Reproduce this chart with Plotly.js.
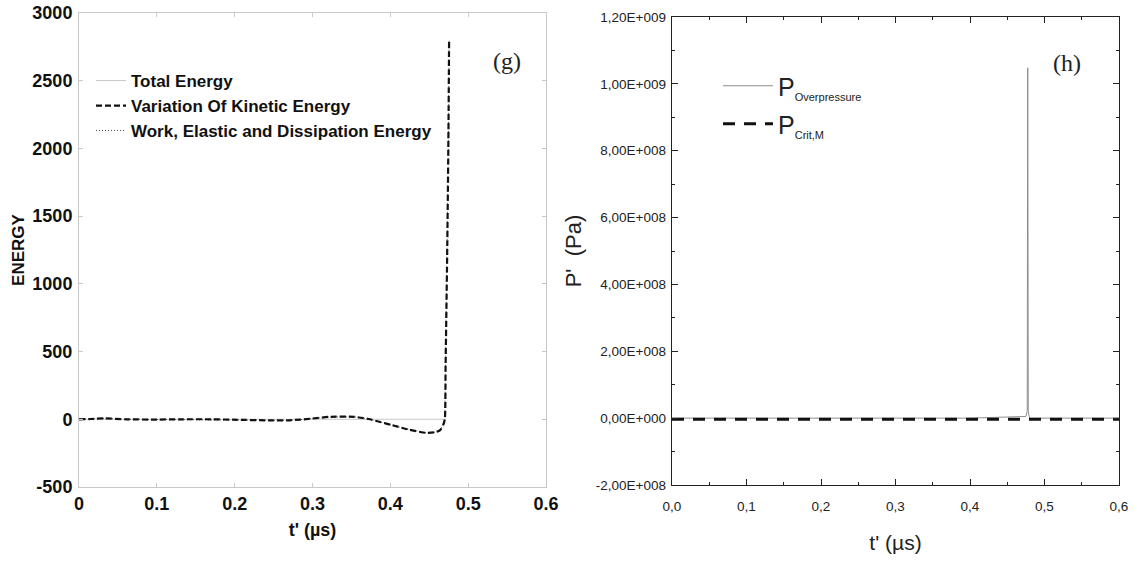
<!DOCTYPE html>
<html><head><meta charset="utf-8">
<script src="https://cdn.plot.ly/plotly-3.0.1.min.js"></script>
<style>html,body{margin:0;padding:0;background:#fff;} #chart{width:1141px;height:563px;}</style>
</head><body><div id="chart"></div>
<script>
// ---- Panel (g): energy ----
const tKinetic = [0, 0.015, 0.033, 0.06, 0.1, 0.129, 0.17, 0.198, 0.244, 0.267, 0.285, 0.299, 0.322, 0.354, 0.372, 0.387, 0.400, 0.423, 0.446, 0.458, 0.464, 0.468, 0.470, 0.471, 0.473, 0.4745, 0.4755];
const eKinetic = [0, 2, 7, 0, -2, 0, 0, -3, -8, -8, -2, 5, 18, 18, 2, -20, -40, -75, -100, -95, -80, -40, 0, 400, 1200, 2000, 2800];
const tTotal = [0, 0.1, 0.2, 0.3, 0.4, 0.47];
const eTotal = [0, 0, 0, 0, 0, 0];
const tWork = tKinetic;
const eWork = eKinetic;
const xTicksG = [0, 0.1, 0.2, 0.3, 0.4, 0.5, 0.6];
const yTicksG = [-500, 0, 500, 1000, 1500, 2000, 2500, 3000];
const yLabelsG = ['-500', '0', '500', '1000', '1500', '2000', '2500', '3000'];

// ---- Panel (h): pressure ----
const tOver = [0, 0.1, 0.2, 0.3, 0.4, 0.475, 0.4768, 0.4775, 0.4782, 0.480, 0.5, 0.6];
const pOver = [0, 0, 0, 0, 0, 5e6, 2e7, 1.048e9, 2e7, 0, 0, 0];
const tCrit = [0, 0.6];
const pCrit = [-3e6, -3e6];
const xTicksH = [0, 0.1, 0.2, 0.3, 0.4, 0.5, 0.6];
const xLabelsH = ['0,0', '0,1', '0,2', '0,3', '0,4', '0,5', '0,6'];
const yTicksH = [-2e8, 0, 2e8, 4e8, 6e8, 8e8, 1e9, 1.2e9];
const yLabelsH = ['-2,00E+008', '0,00E+000', '2,00E+008', '4,00E+008', '6,00E+008', '8,00E+008', '1,00E+009', '1,20E+009'];

const W = 1141, H = 563;
const px = v => v / W;
const py = v => 1 - v / H;
const F = 'Liberation Sans, Arial, sans-serif';

const traces = [
  {x: tTotal, y: eTotal, type: 'scatter', mode: 'lines', name: 'Total Energy',
   line: {color: '#c8c8c8', width: 1}, xaxis: 'x', yaxis: 'y', legend: 'legend'},
  {x: tWork, y: eWork, type: 'scatter', mode: 'lines', name: 'Work, Elastic and Dissipation Energy',
   line: {color: '#444', width: 1, dash: '1px,2px'}, xaxis: 'x', yaxis: 'y', legend: 'legend4'},
  {x: tKinetic, y: eKinetic, type: 'scatter', mode: 'lines', name: 'Variation Of Kinetic Energy',
   line: {color: '#111', width: 2.2, dash: '6px,3px', shape: 'spline', smoothing: 0.6}, xaxis: 'x', yaxis: 'y', legend: 'legend3'},
  {x: tOver, y: pOver, type: 'scatter', mode: 'lines', name: 'P<sub><span style="font-size:11px">Overpressure</span></sub>',
   line: {color: '#8c8c8c', width: 1}, xaxis: 'x2', yaxis: 'y2', legend: 'legend2'},
  {x: tCrit, y: pCrit, type: 'scatter', mode: 'lines', name: 'P<sub><span style="font-size:11px">Crit,M</span></sub>',
   line: {color: '#111', width: 3, dash: '12px,9px'}, xaxis: 'x2', yaxis: 'y2', legend: 'legend5'}
];

const axG = {showgrid: false, zeroline: false, showline: true, linecolor: '#c8c8c8', linewidth: 1,
  mirror: 'ticks', ticks: 'inside', ticklen: 4, tickcolor: '#c8c8c8', tickmode: 'array',
  tickfont: {family: F, size: 18, color: '#111', weight: 'bold'}};
const axH = {showgrid: false, zeroline: false, showline: true, linecolor: '#222', linewidth: 1.3,
  mirror: 'ticks', ticks: 'inside', ticklen: 6, tickcolor: '#222', tickmode: 'array',
  tickfont: {family: F, size: 13.5, color: '#222'}};

const legG = (yc) => ({x: px(91), y: py(yc), xanchor: 'left', yanchor: 'middle', bgcolor: 'rgba(0,0,0,0)',
  font: {family: F, size: 17, color: '#111', weight: 'bold'}, itemwidth: 30});
const legH = (yc) => ({x: px(718), y: py(yc), xanchor: 'left', yanchor: 'middle', bgcolor: 'rgba(0,0,0,0)',
  font: {family: F, size: 25, color: '#222'}, itemwidth: 50});

const layout = {
  width: W, height: H, margin: {l: 0, r: 0, t: 0, b: 0},
  paper_bgcolor: '#fff', plot_bgcolor: '#fff', showlegend: true,
  xaxis: Object.assign({}, axG, {domain: [px(79), px(546)], range: [0, 0.6], tickvals: xTicksG,
    anchor: 'y', title: {text: "t' (µs)", font: {family: F, size: 18, color: '#111', weight: 'bold'}, standoff: 10}}),
  yaxis: Object.assign({}, axG, {domain: [py(487), py(13)], range: [-500, 3000], tickvals: yTicksG, ticktext: yLabelsG,
    anchor: 'x', ticklabelstandoff: 2,
    title: {text: 'ENERGY', font: {family: F, size: 17, color: '#111', weight: 'bold'}, standoff: 3}}),
  xaxis2: Object.assign({}, axH, {domain: [px(672), px(1119)], range: [0, 0.6], tickvals: xTicksH, ticktext: xLabelsH,
    anchor: 'y2', minor: {ticks: 'inside', ticklen: 3, dtick: 0.05, tick0: 0, tickcolor: '#222'},
    ticklabelstandoff: 8,
    title: {text: "t' (µs)", font: {family: F, size: 21, color: '#222'}, standoff: 22}}),
  yaxis2: Object.assign({}, axH, {domain: [py(485), py(17)], range: [-2e8, 1.2e9], tickvals: yTicksH, ticktext: yLabelsH,
    anchor: 'x2', minor: {ticks: 'inside', ticklen: 3, dtick: 1e8, tick0: 0, tickcolor: '#222'},
    ticklabelstandoff: 2,
    title: {text: "P'  (Pa)", font: {family: F, size: 22, color: '#222'}, standoff: 8}}),
  legend: legG(81),
  legend3: legG(106),
  legend4: legG(131),
  legend2: legH(86),
  legend5: legH(124),
  annotations: [
    {text: '(g)', x: px(507), y: py(61), xref: 'paper', yref: 'paper', xanchor: 'center', yanchor: 'middle', showarrow: false,
     font: {family: 'Liberation Serif, Times New Roman, serif', size: 24, color: '#222'}},
    {text: '(h)', x: px(1067), y: py(63), xref: 'paper', yref: 'paper', xanchor: 'center', yanchor: 'middle', showarrow: false,
     font: {family: 'Liberation Serif, Times New Roman, serif', size: 24, color: '#222'}}
  ]
};

Plotly.newPlot('chart', traces, layout, {staticPlot: true, displayModeBar: false});
</script>
</body></html>
